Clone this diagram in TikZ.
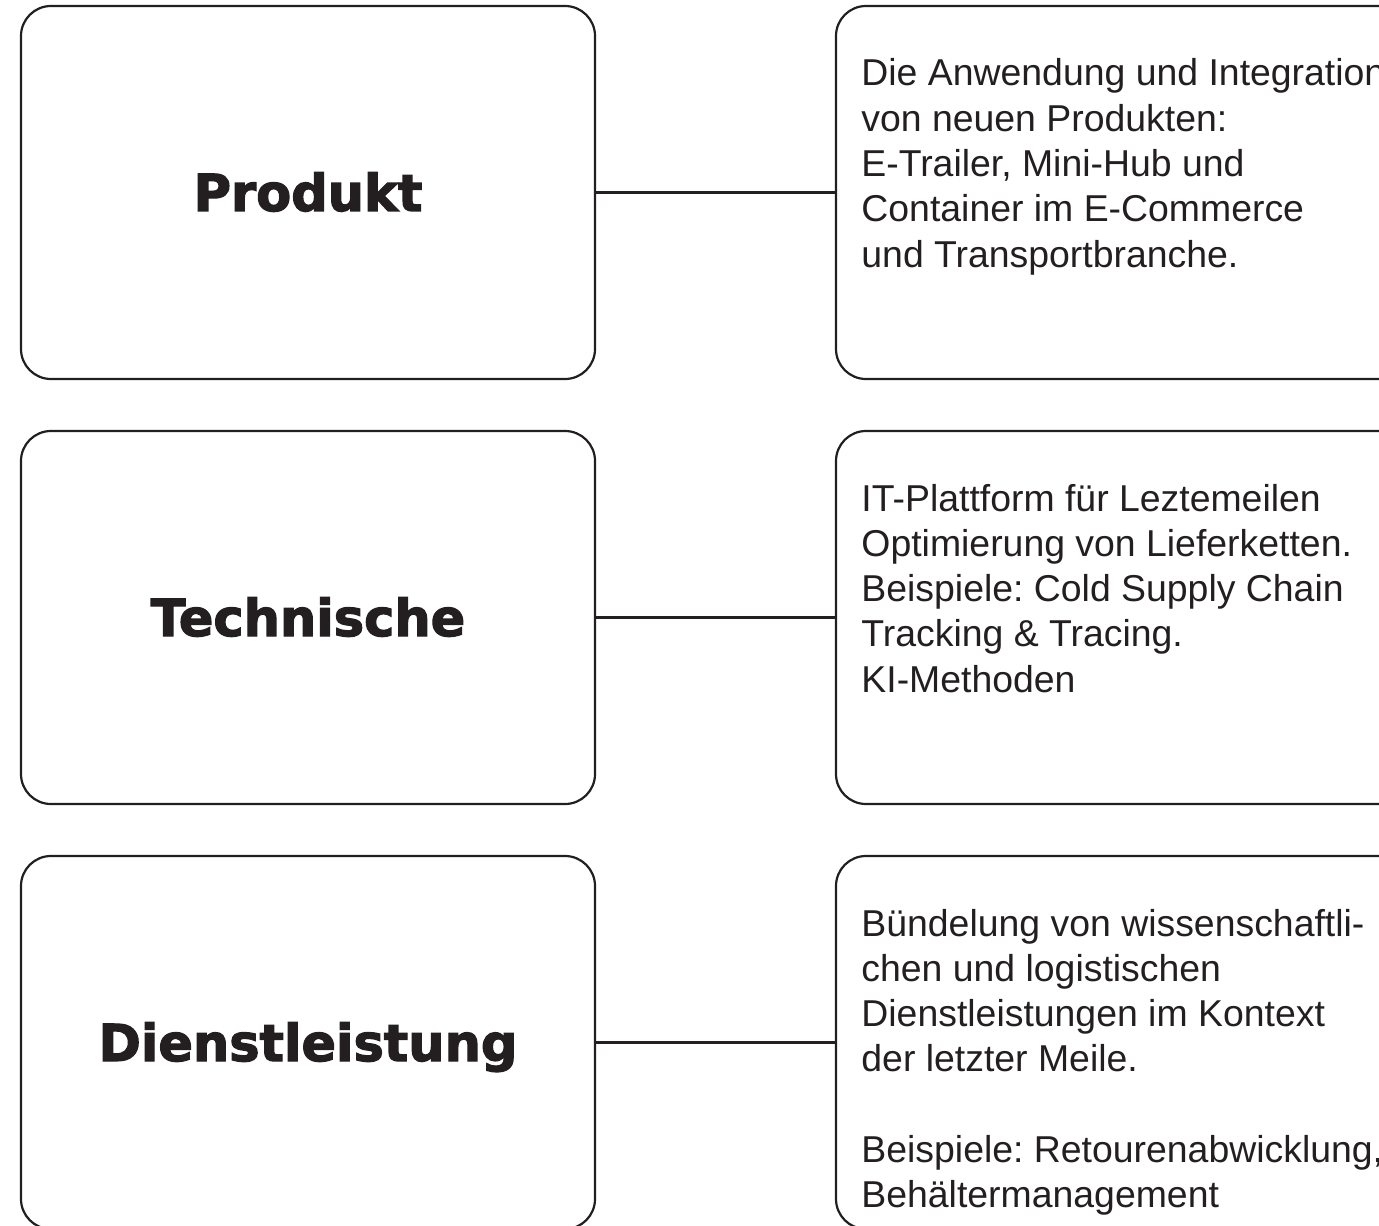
\documentclass[tikz,border=0pt]{standalone}
\usepackage{fontspec}
\setmainfont{Liberation Sans}
\newfontfamily\headfont{DejaVu Sans}[BoldFeatures={FakeBold=2.4}]
\definecolor{ink}{HTML}{231F20}
\frenchspacing

\tikzset{
  frame/.style={draw=ink, line width=1.1pt, rounded corners=15pt,
    minimum height=186.5pt, inner sep=0pt},
  lbox/.style={frame, minimum width=287pt,
    font=\headfont\bfseries\fontsize{25.5}{30}\selectfont, text=ink,
    text height=18.5pt, text depth=0pt},
  rbox/.style={frame, minimum width=292pt},
  body/.style={anchor=base west, inner sep=0pt, text=ink,
    font=\fontsize{18.7}{22.65}\selectfont},
  link/.style={draw=ink, line width=1.1pt}
}
\newcommand{\bodytext}[1]{\parbox[t]{300pt}{\raggedright #1}}

\begin{document}
\begin{tikzpicture}[x=0.5pt, y=-0.5pt]
\useasboundingbox (0,0) rectangle (1379,1225);
\clip (0,0) rectangle (1379,1225);

% left column: categories
\node[lbox] (prod) at (308,192.5) {Produkt};
\node[lbox] (tech) at (308,617.5) {Technische};
\node[lbox] (dien) at (308,1042.5) {Dienstleistung};

% right column: descriptions (boxes run past the right edge)
\node[rbox] (prodd) at (1128,192.5) {};
\node[rbox] (techd) at (1128,617.5) {};
\node[rbox] (diend) at (1128,1042.5) {};

\node[body] (prodt) at (861,86) {\bodytext{Die Anwendung und Integration\\
von neuen Produkten:\\
E-Trailer, Mini-Hub und\\
Container im E-Commerce\\
und Transportbranche.}};

\node[body] (techt) at (861,511) {\bodytext{IT-Plattform für Leztemeilen\\
Optimierung von Lieferketten.\\
Beispiele: Cold Supply Chain\\
Tracking \& Tracing.\\
KI-Methoden}};

\node[body] (dient) at (861,936) {\bodytext{Bündelung von wissenschaftli-\\
chen und logistischen\\
Dienstleistungen im Kontext\\
der letzter Meile.\\
\mbox{}\\
Beispiele: Retourenabwicklung,\\
Behältermanagement}};

% connectors
\draw[link] (prod.east) -- (prodd.west);
\draw[link] (tech.east) -- (techd.west);
\draw[link] (dien.east) -- (diend.west);
\end{tikzpicture}
\end{document}
